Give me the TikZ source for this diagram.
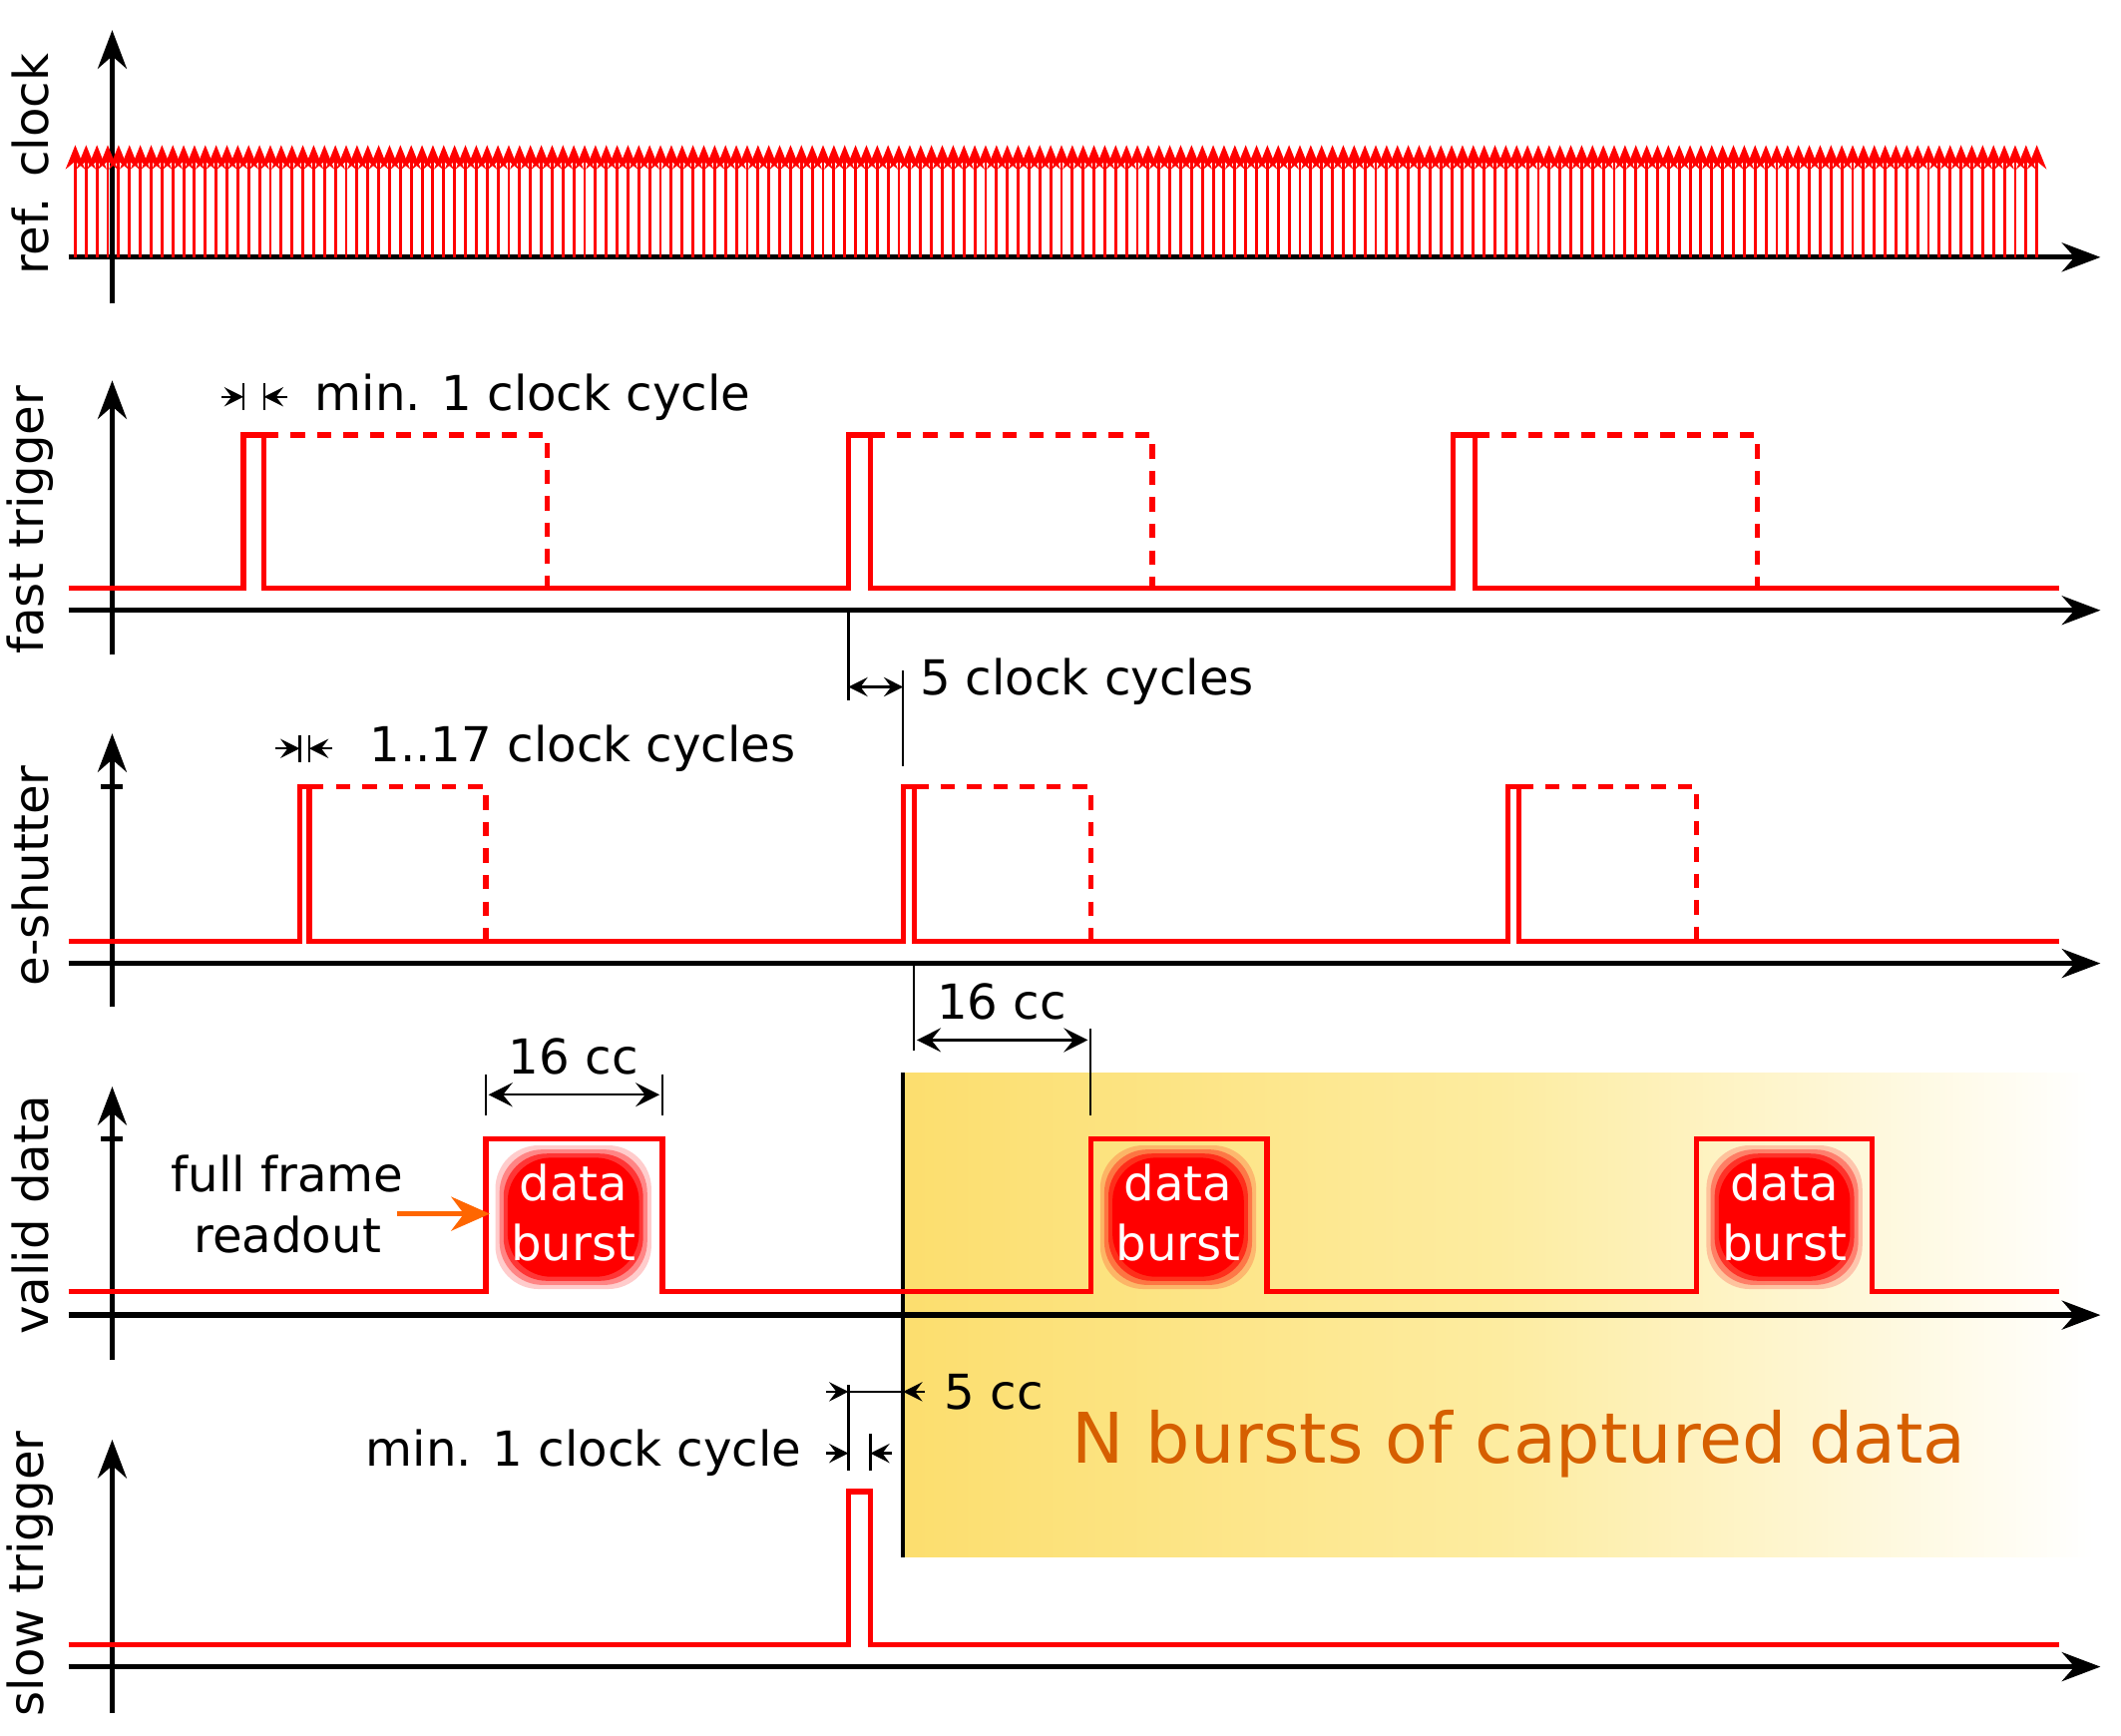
\documentclass[tikz,border=0pt]{standalone}
\usepackage{fontspec}
\setmainfont{DejaVu Sans}
\usetikzlibrary{arrows.meta}
\definecolor{sigred}{RGB}{255,0,0}
\definecolor{capgold}{RGB}{252,222,110}
\definecolor{capmid}{RGB}{253,236,160}
\definecolor{captext}{RGB}{214,95,0}
\definecolor{readorange}{RGB}{255,102,0}
\tikzset{
  axis/.style={line width=1.1pt,-{Stealth[length=8pt,width=6pt]}},
  signal/.style={sigred,line width=1.1pt},
  ghost/.style={sigred,line width=1.1pt,dash pattern=on 3pt off 2.5pt},
  dim/.style={line width=0.5pt},
  dimtip/.style={line width=0.5pt,-{Stealth[length=4pt,width=4pt,inset=1.5pt]}},
  lbl/.style={font=\fontsize{10}{12.5}\selectfont,inner sep=1pt},
  row/.style={lbl,rotate=90},
}
\begin{document}
\begin{tikzpicture}[x=0.01cm,y=-0.01cm]
  \useasboundingbox (0,0) rectangle (1550,1268);
  % captured region
  \shade[left color=capgold,right color=capmid] (660,784) rectangle (1095,1138);
  \shade[left color=capmid,right color=white] (1095,784) rectangle (1530,1138);
  \draw[line width=0.8pt] (660,784) -- (660,1138);
  \node[text=captext,font=\fontsize{14.5}{17}\selectfont] (ncap) at (1110,1055) {N bursts of captured data};

  % axes
  \foreach \ya/\yb/\yx in {222/22/188, 478/278/446, 736/536/704, 994/794/961, 1252/1052/1218}{
    \draw[axis] (82,\ya) -- (82,\yb);
    \draw[axis] (50,\yx) -- (1535,\yx);
  }
  \node[row] (lclk) at (22,120) {ref. clock};
  \node[row] (lfast) at (22,380) {fast trigger};
  \node[row] (lshut) at (22,640) {e-shutter};
  \node[row] (lvalid) at (22,888) {valid data};
  \node[row] (lslow) at (22,1150) {slow trigger};
  % small ticks on the axes
  \foreach \y in {575,688,832,944}
    \draw[line width=1.1pt] (74,\y) -- (90,\y);

  % ref. clock
  \foreach \i in {0,...,181}
    \draw[sigred,line width=0.6pt,-{Stealth[length=5pt,width=4pt]}] (55+7.92*\i,188) -- (55+7.92*\i,106);

  % fast trigger
  \draw[signal] (50,430) -- (178,430) -- (178,318) -- (193,318) -- (193,430)
    -- (620,430) -- (620,318) -- (636,318) -- (636,430)
    -- (1062,430) -- (1062,318) -- (1078,318) -- (1078,430) -- (1505,430);
  \foreach \x/\e in {193/400,636/842,1078/1284}
    \draw[ghost] (\x,318) -- (\e,318) -- (\e,430);

  % e-shutter
  \draw[signal] (50,688) -- (219,688) -- (219,575) -- (226,575) -- (226,688)
    -- (660,688) -- (660,575) -- (668,575) -- (668,688)
    -- (1102,688) -- (1102,575) -- (1110,575) -- (1110,688) -- (1505,688);
  \foreach \x/\e in {226/355,668/797,1110/1240}
    \draw[ghost] (\x,575) -- (\e,575) -- (\e,688);

  % valid data
  \draw[signal] (50,944) -- (355,944) -- (355,832) -- (484,832) -- (484,944)
    -- (797,944) -- (797,832) -- (926,832) -- (926,944)
    -- (1240,944) -- (1240,832) -- (1368,832) -- (1368,944) -- (1505,944);
  \foreach \x/\n in {419/b1,861/b2,1304/b3}{
    \foreach \o/\d in {0.2/0,0.35/3,0.6/6,1/9}
      \fill[sigred,opacity=\o,rounded corners=9pt]
        (\x-57+\d,837+\d) rectangle (\x+57-\d,942-\d);
    \node[lbl,text=white,align=center] (\n) at (\x,886) {data\\burst};
  }
  \node[lbl,align=center] (read) at (210,880) {full frame\\readout};
  \coordinate (rdtip) at (358,887);
  \draw[readorange,line width=1.2pt,-{Stealth[length=8pt,width=7pt]}] (290,887) -- (rdtip);

  % slow trigger
  \draw[signal] (50,1202) -- (620,1202) -- (620,1090) -- (636,1090) -- (636,1202) -- (1505,1202);

  % min. 1 clock cycle (fast trigger)
  \draw[dim] (178,280) -- (178,300) (193,280) -- (193,300);
  \draw[dimtip] (162,290) -- (178,290);
  \draw[dimtip] (210,290) -- (193,290);
  \node[lbl,anchor=west] (mfast) at (226,290) {min. 1 clock cycle};

  % 1..17 clock cycles
  \draw[dim] (219,537) -- (219,557) (226,537) -- (226,557);
  \draw[dimtip] (201,547) -- (219,547);
  \draw[dimtip] (243,547) -- (226,547);
  \node[lbl,anchor=west] (mshut) at (266,547) {1..17 clock cycles};

  % 5 clock cycles
  \coordinate (fa) at (620,446);
  \coordinate (fb) at (620,512);
  \coordinate (sa) at (660,490);
  \coordinate (sb) at (660,560);
  \draw[dim] (fa) -- (fb) (sa) -- (sb);
  \draw[dim,{Stealth[length=4pt,width=4pt,inset=1.5pt]}-{Stealth[length=4pt,width=4pt,inset=1.5pt]}] (620,502) -- (660,502);
  \node[lbl,anchor=west] (m5) at (668,498) {5 clock cycles};

  % 16 cc (first burst)
  \draw[dim] (355,785) -- (355,815) (484,785) -- (484,815);
  \draw[dim,{Stealth[length=5pt,width=5pt,inset=2pt]}-{Stealth[length=5pt,width=5pt,inset=2pt]}] (357,800) -- (482,800);
  \node[lbl] (c1) at (419,772) {16 cc};

  % 16 cc (second burst)
  \draw[dim] (668,704) -- (668,768) (797,752) -- (797,815);
  \draw[dim,{Stealth[length=5pt,width=5pt,inset=2pt]}-{Stealth[length=5pt,width=5pt,inset=2pt]}] (670,760) -- (795,760);
  \node[lbl] (c2) at (732,732) {16 cc};

  % 5 cc and min. 1 clock cycle (slow trigger)
  \draw[dim] (620,1012) -- (620,1075) (636,1048) -- (636,1075);
  \draw[dim] (620,1017) -- (660,1017);
  \draw[dimtip] (604,1017) -- (620,1017);
  \draw[dimtip] (676,1017) -- (660,1017);
  \node[lbl,anchor=west] (m5cc) at (686,1017) {5 cc};
  \draw[dimtip] (604,1062) -- (620,1062);
  \draw[dimtip] (652,1062) -- (636,1062);
  \node[lbl,anchor=east] (mslow) at (590,1062) {min. 1 clock cycle};
\end{tikzpicture}
\end{document}
